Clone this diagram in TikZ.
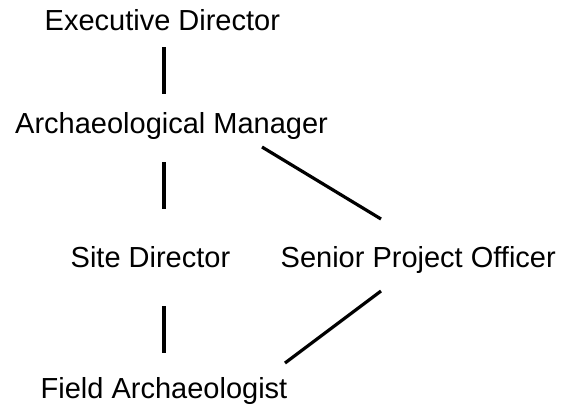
\documentclass[tikz,border=0pt]{standalone}
\usepackage{fontspec}
\setmainfont{Liberation Sans}
\begin{document}
\begin{tikzpicture}[x=1pt,y=-1pt,
  lbl/.style={inner sep=0pt,anchor=base west,font=\fontsize{29}{32}\selectfont},
  conn/.style={line width=3.2pt}]
\useasboundingbox (0,0) rectangle (562,408);
\node[lbl] (ed) at (44.5,30) {Executive Director};
\node[lbl] (am) at (15,133) {Archaeological Manager};
\node[lbl] (sd) at (70.5,267) {Site Director};
\node[lbl] (spo) at (280.5,267) {Senior Project Officer};
\node[lbl] (fa) at (40.5,398.5) {Field Archaeologist};
\coordinate (c1a) at (164,47);  \coordinate (c1b) at (164,94);
\coordinate (c2a) at (164,162); \coordinate (c2b) at (164,209);
\coordinate (c3a) at (262,147); \coordinate (c3b) at (381,219);
\coordinate (c4a) at (164,306); \coordinate (c4b) at (164,353);
\coordinate (c5a) at (381,291); \coordinate (c5b) at (285,363);
\draw[conn] (c1a) -- (c1b);
\draw[conn] (c2a) -- (c2b);
\draw[conn] (c3a) -- (c3b);
\draw[conn] (c4a) -- (c4b);
\draw[conn] (c5a) -- (c5b);
\end{tikzpicture}
\end{document}
